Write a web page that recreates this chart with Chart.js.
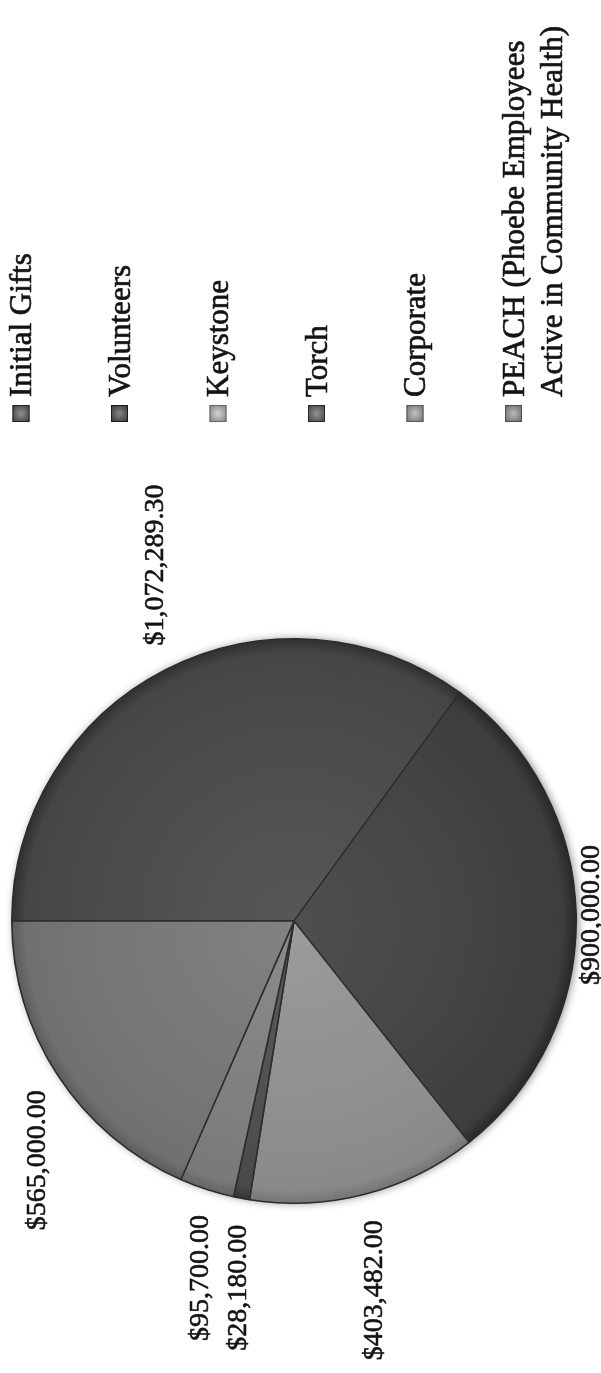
<!DOCTYPE html>
<html>
<head>
<meta charset="utf-8">
<title>Campaign totals by division</title>
<script src="https://cdn.jsdelivr.net/npm/chart.js@4.4.1/dist/chart.umd.min.js"></script>
<style>
  html, body { margin: 0; padding: 0; background: #fff; overflow: hidden; }
  #page { position: relative; width: 601px; height: 1373px; overflow: hidden; background: #fff; }
  /* the chart is laid out landscape and turned a quarter turn to stand on the page */
  #turn { position: absolute; left: 0; top: 0; width: 1373px; height: 601px;
          transform-origin: 0 0; transform: translateY(1373px) rotate(-90deg); }
  canvas { display: block; }
</style>
</head>
<body>
<div id="page"><div id="turn"><canvas id="pie" width="1373" height="601"></canvas></div></div>
<script>
// Divisions, in drawing order (clockwise from the top)
const categories = [
  'Initial Gifts',
  'Volunteers',
  'Keystone',
  'Torch',
  'Corporate',
  'PEACH (Phoebe Employees Active in Community Health)'
];
// Dollars raised by each division
const amounts = [1072289.30, 900000.00, 403482.00, 28180.00, 95700.00, 565000.00];
// Grey fill for each slice
const sliceGrays = ['#4b4b4b', '#434343', '#8f8f8f', '#505050', '#7f7f7f', '#767676'];

const SERIF = '"Liberation Serif", "Times New Roman", serif';

function money(v) {
  return '$' + v.toLocaleString('en-US', { minimumFractionDigits: 2, maximumFractionDigits: 2 });
}

function shade(hex, amt) {
  const n = parseInt(hex.slice(1), 16);
  const ch = s => Math.max(0, Math.min(255, ((n >> s) & 255) + amt));
  return 'rgb(' + ch(16) + ',' + ch(8) + ',' + ch(0) + ')';
}

// Fill plus a hairline outline in the same ink, for a slightly heavier type
function inkText(c, text, x, y) {
  c.fillText(text, x, y);
  c.strokeText(text, x, y);
}

// Soft lift under the disc
const rimShadow = {
  id: 'rimShadow',
  beforeDatasetsDraw(chart) {
    const arc = chart.getDatasetMeta(0).data[0];
    if (!arc) return;
    const { x, y, outerRadius } = arc.getProps(['x', 'y', 'outerRadius'], true);
    const c = chart.ctx;
    c.save();
    c.shadowColor = 'rgba(0,0,0,0.45)';
    c.shadowBlur = 8;
    c.shadowOffsetX = 0;
    c.shadowOffsetY = 2;
    c.beginPath();
    c.arc(x, y, outerRadius, 0, Math.PI * 2);
    c.fillStyle = '#3a3a3a';
    c.fill();
    c.restore();
  }
};

// Dollar amounts just outside each slice
const valueLabels = {
  id: 'valueLabels',
  afterDatasetsDraw(chart) {
    const c = chart.ctx;
    const meta = chart.getDatasetMeta(0);
    const values = chart.data.datasets[0].data;
    c.save();
    c.fillStyle = '#141414';
    c.strokeStyle = '#141414';
    c.lineWidth = 0.6;
    c.font = '28px ' + SERIF;
    c.textBaseline = 'alphabetic';
    meta.data.forEach((arc, i) => {
      const { x, y, startAngle, endAngle, outerRadius } =
        arc.getProps(['x', 'y', 'startAngle', 'endAngle', 'outerRadius'], true);
      const mid = (startAngle + endAngle) / 2;
      const dx = Math.cos(mid), dy = Math.sin(mid);
      let gap, align;
      if (Math.abs(dx) < 0.3) { gap = 13; align = 'center'; }
      else { gap = 27; align = dx > 0 ? 'left' : 'right'; }
      const px = x + (outerRadius + gap) * dx;
      const py = y + (outerRadius + gap) * dy;
      c.textAlign = align;
      inkText(c, money(values[i]), px, py + 9.5);
    });
    c.restore();
  }
};

// Key: square swatch plus wrapped division name
const sideKey = {
  id: 'sideKey',
  afterDraw(chart) {
    const c = chart.ctx;
    const labels = chart.data.labels;
    const left = 951, box = 17, textX = 976, firstY = 21, step = 98.5, lineGap = 38, maxW = 395;
    c.save();
    c.font = '31px ' + SERIF;
    c.textAlign = 'left';
    c.textBaseline = 'alphabetic';
    labels.forEach((name, i) => {
      const cy = firstY + step * i;
      const base = sliceGrays[i];
      // swatch
      const g = c.createRadialGradient(left + box / 2, cy, 1, left + box / 2, cy, box * 0.7);
      g.addColorStop(0, shade(base, 60));
      g.addColorStop(1, shade(base, -18));
      c.fillStyle = g;
      c.fillRect(left, cy - box / 2, box, box);
      c.strokeStyle = shade(base, -40);
      c.lineWidth = 1;
      c.strokeRect(left + 0.5, cy - box / 2 + 0.5, box - 1, box - 1);
      // wrapped name
      const words = name.split(' ');
      const lines = [];
      let cur = '';
      words.forEach(w => {
        const t = cur ? cur + ' ' + w : w;
        if (cur && c.measureText(t).width > maxW) { lines.push(cur); cur = w; }
        else cur = t;
      });
      lines.push(cur);
      c.fillStyle = '#141414';
      c.strokeStyle = '#141414';
      c.lineWidth = 0.7;
      lines.forEach((ln, k) => inkText(c, ln, textX, cy + 10 + k * lineGap));
    });
    c.restore();
  }
};

new Chart(document.getElementById('pie'), {
  type: 'pie',
  data: {
    labels: categories,
    datasets: [{
      data: amounts,
      backgroundColor(ctx) {
        const base = sliceGrays[ctx.dataIndex];
        const area = ctx.chart.chartArea;
        if (!area) return base;
        const cx = (area.left + area.right) / 2, cy = (area.top + area.bottom) / 2;
        const r = Math.min(area.width, area.height) / 2;
        const g = ctx.chart.ctx.createRadialGradient(cx, cy, 0, cx, cy, r);
        g.addColorStop(0, shade(base, 12));
        g.addColorStop(0.7, base);
        g.addColorStop(0.95, shade(base, -6));
        g.addColorStop(1, shade(base, -28));
        return g;
      },
      borderColor: '#2c2c2c',
      borderWidth: 1.5
    }]
  },
  options: {
    responsive: false,
    animation: false,
    events: [],
    layout: { padding: { left: 169, right: 638, top: 11, bottom: 24 } },
    plugins: {
      legend: { display: false },
      tooltip: { enabled: false },
      title: { display: false }
    }
  },
  plugins: [rimShadow, valueLabels, sideKey]
});
</script>
</body>
</html>
